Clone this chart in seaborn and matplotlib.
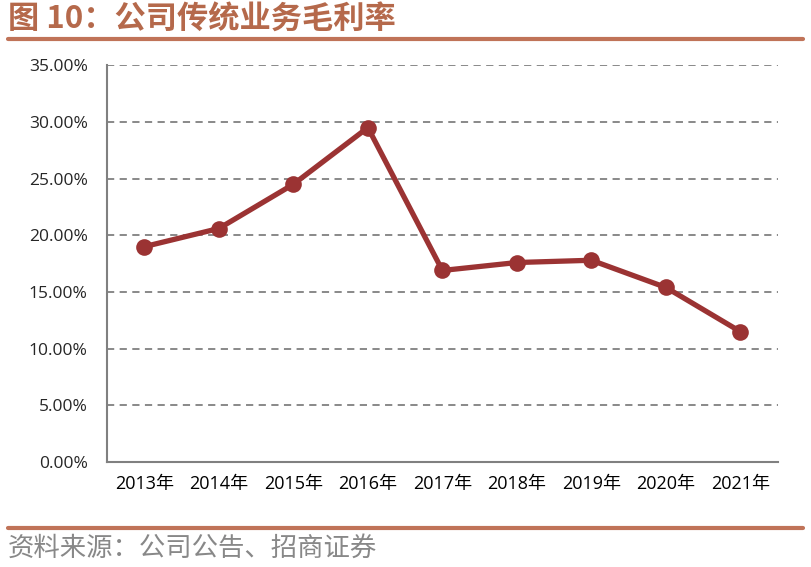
import matplotlib
matplotlib.use("Agg")
import matplotlib.pyplot as plt
import seaborn as sns
import pandas as pd
import numpy as np
from matplotlib.ticker import FuncFormatter, FixedLocator, MultipleLocator

# chart data
years = ["2013年", "2014年", "2015年", "2016年", "2017年", "2018年", "2019年", "2020年", "2021年"]
margin = [19.0, 20.6, 24.5, 29.5, 16.9, 17.6, 17.8, 15.4, 11.5]

title_text = "图 10：公司传统业务毛利率"
source_text = "资料来源：公司公告、招商证券"

df = pd.DataFrame({"pos": np.arange(len(years)), "margin": margin})

sns.set_style("white")
plt.rcParams['font.family'] = ['Noto Sans CJK SC', 'DejaVu Sans']

line_color = "#9b3333"
accent = "#c07358"
grid_color = "#808080"

fig = plt.figure(figsize=(8.11, 5.67), dpi=100)
ax = fig.add_axes([0.132, 0.185, 0.827, 0.70])

sns.lineplot(data=df, x="pos", y="margin", ax=ax, color=line_color, linewidth=3.8,
             marker="o", markersize=12, markeredgewidth=0, markerfacecolor=line_color)

ax.set_xlim(-0.5, len(years) - 0.5)
ax.set_ylim(0, 35)
ax.yaxis.set_major_locator(MultipleLocator(5))
ax.yaxis.set_major_formatter(FuncFormatter(lambda v, p: f"{v:.2f}%"))
ax.grid(axis="y", color=grid_color, linestyle=(0, (4, 3)), linewidth=1.3)
ax.set_axisbelow(True)

# category labels centered, ticks between categories
ax.set_xticks(np.arange(len(years)))
ax.set_xticklabels(years)
ax.xaxis.set_minor_locator(FixedLocator(np.arange(-0.5, len(years), 1.0)))
ax.tick_params(axis="x", which="major", length=0, labelsize=13, pad=9, colors="#000000")
ax.tick_params(axis="x", which="minor", length=6, width=1.3, color=grid_color, direction="out")
ax.tick_params(axis="y", length=6, width=1.3, color=grid_color, direction="out", labelsize=12.5, pad=8)
for lab in ax.get_yticklabels():
    lab.set_family(["Open Sans", "DejaVu Sans"])
for lab in ax.get_xticklabels():
    lab.set_family(["Open Sans", "Noto Sans CJK SC"])

ax.set_xlabel("")
ax.set_ylabel("")
for side in ["top", "right"]:
    ax.spines[side].set_visible(False)
for side in ["left", "bottom"]:
    ax.spines[side].set_color(grid_color)
    ax.spines[side].set_linewidth(1.5)

# title and rules
fig.text(0.010, 0.966, title_text, fontsize=22.5, fontweight="bold", color="#b5694b",
         ha="left", va="center")
fig.add_artist(plt.Line2D([0.010, 0.990], [0.932, 0.932], color=accent, linewidth=3))
fig.add_artist(plt.Line2D([0.010, 0.990], [0.068, 0.068], color=accent, linewidth=3))
fig.text(0.010, 0.033, source_text, fontsize=19, color="#888888", ha="left", va="center")

fig.savefig("out.png", dpi=100)
